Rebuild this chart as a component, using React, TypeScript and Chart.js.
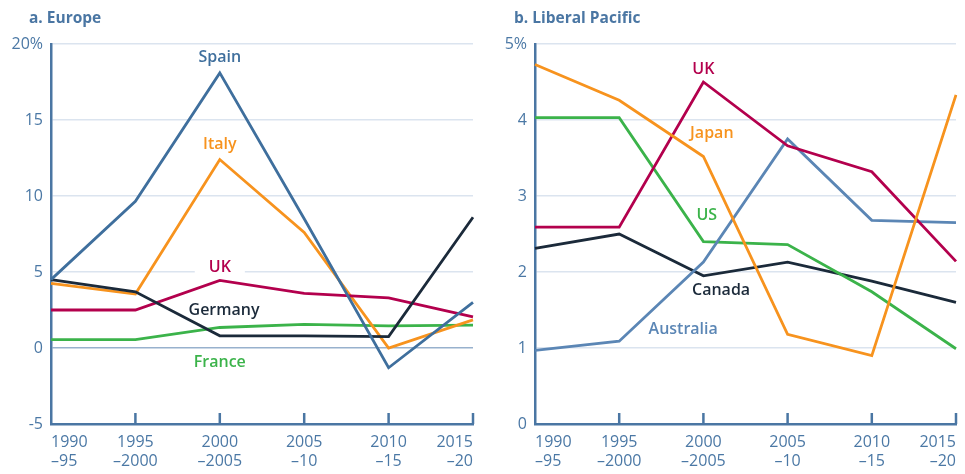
import React, { useEffect, useRef } from "react";
import { Chart, registerables } from "chart.js";

Chart.register(...registerables);

const categories = [
  ["1990", "–95"],
  ["1995", "–2000"],
  ["2000", "–2005"],
  ["2005", "–10"],
  ["2010", "–15"],
  ["2015", "–20"],
];

// a. Europe (%)
const spain = [4.5, 9.65, 18.1, 8.5, -1.3, 3.0];
const italy = [4.25, 3.55, 12.4, 7.6, 0.0, 1.85];
const ukEurope = [2.5, 2.5, 4.45, 3.6, 3.3, 2.05];
const germany = [4.5, 3.7, 0.8, 0.8, 0.75, 8.6];
const france = [0.55, 0.55, 1.35, 1.55, 1.45, 1.5];

// b. Liberal Pacific (%)
const japan = [4.73, 4.26, 3.52, 1.18, 0.9, 4.33];
const ukPacific = [2.59, 2.59, 4.5, 3.66, 3.32, 2.14];
const us = [4.03, 4.03, 2.4, 2.36, 1.74, 0.99];
const canada = [2.31, 2.5, 1.95, 2.13, 1.88, 1.6];
const australia = [0.97, 1.09, 2.13, 3.75, 2.68, 2.65];

const europeTicks = { min: -5, max: 20, step: 5 };
const pacificTicks = { min: 0, max: 5, step: 1 };

const C = {
  axis: "#4a76a3",
  text: "#4b78a5",
  grid: "#dbe4ef",
  zero: "#98b1cd",
  spain: "#3f6f9d",
  australia: "#5b86b5",
  orange: "#f7931e",
  uk: "#b3004d",
  navy: "#1b2a3a",
  green: "#3bb34a",
};

const FONT = '"Open Sans", "DejaVu Sans", sans-serif';

type Lbl = { text: string; xi: number; yv: number; color: string; box?: boolean };

const europeLabels: Lbl[] = [
  { text: "Spain", xi: 2, yv: 19.1, color: C.spain },
  { text: "Italy", xi: 2, yv: 13.4, color: C.orange },
  { text: "UK", xi: 2, yv: 5.3, color: C.uk, box: true },
  { text: "Germany", xi: 2.05, yv: 2.45, color: C.navy },
  { text: "France", xi: 2, yv: -0.95, color: C.green },
];

const pacificLabels: Lbl[] = [
  { text: "UK", xi: 2, yv: 4.67, color: C.uk },
  { text: "Japan", xi: 2.1, yv: 3.82, color: C.orange },
  { text: "US", xi: 2.04, yv: 2.74, color: C.green },
  { text: "Canada", xi: 2.21, yv: 1.76, color: C.navy },
  { text: "Australia", xi: 1.76, yv: 1.25, color: C.australia },
];

function makePlugin(labels: Lbl[]) {
  return {
    id: "seriesLabels",
    beforeDatasetsDraw(chart: any) {
      const { ctx } = chart;
      const x = chart.scales.x;
      const y = chart.scales.y;
      ctx.save();
      ctx.font = `600 16px ${FONT}`;
      ctx.textAlign = "center";
      ctx.textBaseline = "middle";
      for (const l of labels) {
        const px = x.getPixelForValue(l.xi);
        const py = y.getPixelForValue(l.yv);
        if (l.box) {
          const w = ctx.measureText(l.text).width + 28;
          ctx.fillStyle = "#ffffff";
          ctx.fillRect(px - w / 2, py - 10, w, 20);
        }
        ctx.fillStyle = l.color;
        ctx.fillText(l.text, px, py);
      }
      ctx.strokeStyle = C.axis;
      ctx.lineWidth = 2.5;
      for (let i = 1; i < x.ticks.length; i++) {
        const tx = x.getPixelForTick(i);
        ctx.beginPath();
        ctx.moveTo(tx, y.bottom);
        ctx.lineTo(tx, y.bottom - 11);
        ctx.stroke();
      }
      ctx.restore();
    },
  };
}

type Series = { label: string; data: number[]; color: string };

function Panel(props: {
  series: Series[];
  labels: Lbl[];
  range: { min: number; max: number; step: number };
  width: number;
  padRight: number;
  yWidth: number;
}) {
  const ref = useRef<HTMLCanvasElement>(null);
  useEffect(() => {
    if (!ref.current) return;
    const { range } = props;
    const chart = new Chart(ref.current, {
      type: "line",
      data: {
        labels: categories,
        datasets: props.series.map((s) => ({
          label: s.label,
          data: s.data,
          borderColor: s.color,
          backgroundColor: s.color,
          borderWidth: 2.8,
          pointRadius: 0,
          tension: 0,
          fill: false,
        })),
      },
      options: {
        animation: false,
        responsive: false,
        devicePixelRatio: 1,
        layout: { padding: { top: 44, right: props.padRight, left: 0, bottom: 0 } },
        plugins: { legend: { display: false }, tooltip: { enabled: false } },
        scales: {
          x: {
            type: "category",
            offset: false,
            grid: { display: false, drawTicks: false },
            border: { display: true, color: C.axis, width: 2.5 },
            ticks: {
              align: "inner",
              maxRotation: 0,
              autoSkip: false,
              padding: 9,
              color: C.text,
              font: { family: FONT, size: 16, lineHeight: 1.2 },
            },
            afterFit: (s: any) => {
              s.height = 50;
            },
          },
          y: {
            min: range.min,
            max: range.max,
            grid: {
              drawTicks: false,
              lineWidth: 1.5,
              color: (c: any) => (c.tick && c.tick.value === 0 && range.min < 0 ? C.zero : C.grid),
            },
            border: { display: true, color: C.axis, width: 2.5 },
            ticks: {
              stepSize: range.step,
              padding: 8,
              color: C.text,
              font: { family: FONT, size: 16 },
              callback: (v: any) => (v === range.max ? `${v}%` : `${v}`),
            },
            afterFit: (s: any) => {
              s.width = props.yWidth;
            },
          },
        },
      } as any,
      plugins: [makePlugin(props.labels)],
    });
    return () => chart.destroy();
  }, []);
  return <canvas ref={ref} width={props.width} height={474} style={{ display: "block" }} />;
}

const titleStyle: React.CSSProperties = {
  position: "absolute",
  top: 7,
  fontFamily: FONT,
  fontWeight: 700,
  fontSize: 15.5,
  lineHeight: "20px",
  color: C.axis,
  whiteSpace: "nowrap",
};

export default function App() {
  const europe: Series[] = [
    { label: "Spain", data: spain, color: C.spain },
    { label: "Germany", data: germany, color: C.navy },
    { label: "UK", data: ukEurope, color: C.uk },
    { label: "Italy", data: italy, color: C.orange },
    { label: "France", data: france, color: C.green },
  ];
  const pacific: Series[] = [
    { label: "Japan", data: japan, color: C.orange },
    { label: "UK", data: ukPacific, color: C.uk },
    { label: "Australia", data: australia, color: C.australia },
    { label: "US", data: us, color: C.green },
    { label: "Canada", data: canada, color: C.navy },
  ];
  return (
    <div
      style={{
        position: "fixed",
        left: 0,
        top: 0,
        width: 965,
        height: 474,
        background: "#ffffff",
        overflow: "hidden",
      }}
    >
      <div style={{ position: "absolute", left: 0, top: 0 }}>
        <Panel series={europe} labels={europeLabels} range={europeTicks} width={482} padRight={7} yWidth={51} />
      </div>
      <div style={{ position: "absolute", left: 482, top: 0 }}>
        <Panel series={pacific} labels={pacificLabels} range={pacificTicks} width={483} padRight={6} yWidth={53} />
      </div>
      <div style={{ ...titleStyle, left: 29 }}>a. Europe</div>
      <div style={{ ...titleStyle, left: 514 }}>b. Liberal Pacific</div>
    </div>
  );
}
